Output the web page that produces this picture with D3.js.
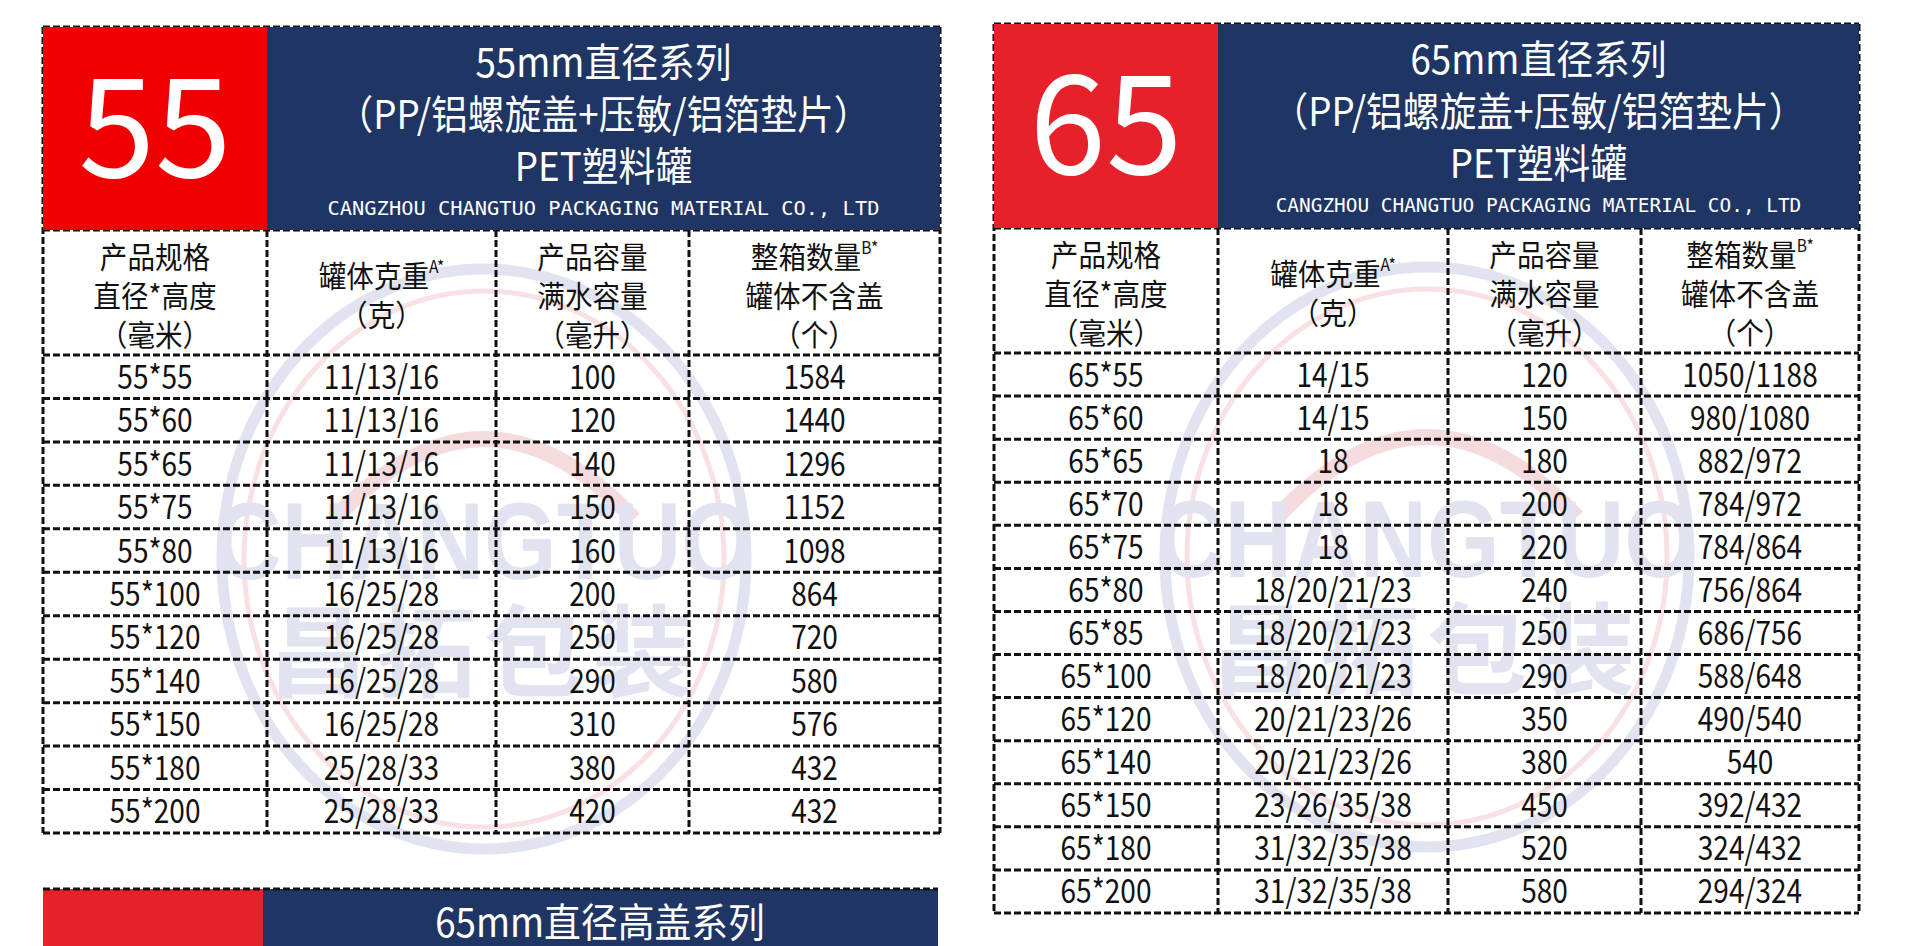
<!DOCTYPE html>
<html><head><meta charset="utf-8">
<script src="https://cdn.jsdelivr.net/npm/d3@7"></script>
<style>body{margin:0;background:#fff;overflow:hidden}svg{display:block}</style>
</head><body>
<script>
// column headings (lines)
var colHeads = [
	["产品规格", "直径*高度", "（毫米）"],
	["罐体克重|A*", "（克）"],
	["产品容量", "满水容量", "（毫升）"],
	["整箱数量|B*", "罐体不含盖", "（个）"]
];

var spec55 = ["55*55","55*60","55*65","55*75","55*80","55*100","55*120","55*140","55*150","55*180","55*200"];
var weight55 = ["11/13/16","11/13/16","11/13/16","11/13/16","11/13/16","16/25/28","16/25/28","16/25/28","16/25/28","25/28/33","25/28/33"];
var volume55 = [100,120,140,150,160,200,250,290,310,380,420];
var box55 = ["1584","1440","1296","1152","1098","864","720","580","576","432","432"];

var spec65 = ["65*55","65*60","65*65","65*70","65*75","65*80","65*85","65*100","65*120","65*140","65*150","65*180","65*200"];
var weight65 = ["14/15","14/15","18","18","18","18/20/21/23","18/20/21/23","18/20/21/23","20/21/23/26","20/21/23/26","23/26/35/38","31/32/35/38","31/32/35/38"];
var volume65 = [120,150,180,200,220,240,250,290,350,380,450,520,580];
var box65 = ["1050/1188","980/1080","882/972","784/972","784/864","756/864","686/756","588/648","490/540","540","392/432","324/432","294/324"];

var company = "CANGZHOU CHANGTUO PACKAGING MATERIAL CO., LTD";

var W = 1920, H = 946;
var svg = d3.select("body").append("svg").attr("width", W).attr("height", H);
var font = "'Noto Sans CJK SC', 'Noto Sans', sans-serif";

// narrow text: squeeze horizontally around its anchor
function squeeze(t, cx, k)	{
	t.attr("transform", `translate(${cx},0) scale(${k},1) translate(${-cx},0)`);
	return t;
}

function watermark(cx, cy)	{
	var g = svg.append("g").attr("opacity", 0.75);
	g.append("ellipse").attr("cx", cx).attr("cy", cy).attr("rx", 262).attr("ry", 290)
		.attr("fill", "none").attr("stroke", "#d8dbec").attr("stroke-width", 11);
	g.append("ellipse").attr("cx", cx).attr("cy", cy).attr("rx", 240).attr("ry", 268)
		.attr("fill", "none").attr("stroke", "#f6d6da").attr("stroke-width", 5);
	g.append("path")
		.attr("d", `M${cx-150},${cy-40} Q${cx},${cy-200} ${cx+150},${cy-40}`)
		.attr("fill", "none").attr("stroke", "#f4d0d4").attr("stroke-width", 16);
	squeeze(g.append("text").attr("x", cx).attr("y", cy + 20).attr("text-anchor", "middle")
		.attr("font-family", "'Liberation Sans', sans-serif").attr("font-weight", "bold")
		.attr("font-size", 110).attr("fill", "#d8dbec").text("CHANGTUO"), cx, 0.85);
	g.append("text").attr("x", cx).attr("y", cy + 130).attr("text-anchor", "middle")
		.attr("font-family", font).attr("font-weight", "bold")
		.attr("font-size", 100).attr("fill", "#d8dbec").attr("letter-spacing", 8).text("昌拓包装");
}

function header(x0, x1, xr, y0, y1, num, lines)	{
	svg.append("rect").attr("x", x0).attr("y", y0).attr("width", xr - x0).attr("height", y1 - y0).attr("fill", num === "55" ? "#f00000" : "#e62129");
	svg.append("rect").attr("x", xr).attr("y", y0).attr("width", x1 - xr).attr("height", y1 - y0).attr("fill", "#1f3564");
	svg.append("text").attr("x", (x0 + xr) / 2).attr("y", y0 + (y1 - y0) / 2 + 48)
		.attr("text-anchor", "middle").attr("fill", "#fff").attr("font-family", font)
		.attr("font-size", 138).text(num);
	var cx = (xr + x1) / 2;
	lines.forEach((l, i) => {
		squeeze(svg.append("text").attr("x", cx).attr("y", y0 + 50 + i * 52).attr("text-anchor", "middle")
			.attr("fill", "#fff").attr("font-family", font).attr("font-size", 40).text(l), cx, 0.92);
	});
	svg.append("text").attr("x", cx).attr("y", y0 + 188).attr("text-anchor", "middle")
		.attr("fill", "#fff").attr("font-family", "'DejaVu Sans Mono', monospace").attr("font-size", 19)
		.attr("textLength", (x1 - xr) * 0.82).attr("lengthAdjust", "spacingAndGlyphs").text(company);
}

function table(opt)	{
	var x = d3.scaleOrdinal().domain([0, 1, 2, 3]).range(opt.cols);
	var rows = opt.spec.map((s, i) => [s, opt.weight[i], String(opt.volume[i]), opt.box[i]]);
	var y = d3.scaleBand().domain(d3.range(rows.length)).range([opt.yh, opt.yb]);
	var g = svg.append("g").attr("stroke", "#111").attr("stroke-width", 3).attr("stroke-dasharray", "7,3");

	header(opt.cols[0], opt.cols[4], opt.cols[1], opt.yt, opt.yc, opt.num, opt.title);

	// column headings
	colHeads.forEach((ls, c) => {
		var cx = (x(c) + opt.cols[c + 1]) / 2;
		var off = ls.length === 3 ? 0 : 19;
		ls.forEach((l, k) => {
			var parts = l.split("|");
			var t = svg.append("text").attr("x", cx).attr("y", opt.yc + 38 + off + k * 39)
				.attr("text-anchor", "middle").attr("font-family", font).attr("font-size", 30).attr("fill", "#111");
			t.append("tspan").text(parts[0]);
			if(parts[1]) t.append("tspan").attr("dy", -14).attr("font-size", 17).text(parts[1]);
			squeeze(t, cx, 0.92);
		});
	});

	// cells
	rows.forEach((r, i) => r.forEach((v, c) => {
		var cx = (x(c) + opt.cols[c + 1]) / 2;
		squeeze(svg.append("text").attr("x", cx).attr("y", y(i) + y.bandwidth() / 2 + 12)
			.attr("text-anchor", "middle").attr("font-family", font).attr("font-size", 33).attr("fill", "#111").text(v), cx, 0.85);
	}));

	// grid
	[opt.yc].concat(y.domain().map(d => y(d))).concat([opt.yb]).forEach(yy => {
		g.append("line").attr("x1", opt.cols[0]).attr("x2", opt.cols[4]).attr("y1", yy).attr("y2", yy);
	});
	g.append("line").attr("x1", opt.cols[0]).attr("x2", opt.cols[4]).attr("y1", opt.yt).attr("y2", opt.yt);
	opt.cols.forEach((cx, i) => {
		g.append("line").attr("x1", cx).attr("x2", cx)
			.attr("y1", (i === 0 || i === 4) ? opt.yt : opt.yc).attr("y2", opt.yb);
	});
}

watermark(484, 559);
watermark(1427, 557);

table({ num: "55", cols: [43, 267, 496, 689, 940], yt: 27, yc: 230, yh: 355, yb: 833,
	title: ["55mm直径系列", "（PP/铝螺旋盖+压敏/铝箔垫片）", "PET塑料罐"],
	spec: spec55, weight: weight55, volume: volume55, box: box55 });
table({ num: "65", cols: [994, 1218, 1448, 1641, 1859], yt: 24, yc: 228, yh: 353, yb: 913,
	title: ["65mm直径系列", "（PP/铝螺旋盖+压敏/铝箔垫片）", "PET塑料罐"],
	spec: spec65, weight: weight65, volume: volume65, box: box65 });

// third table, cut off at bottom
svg.append("rect").attr("x", 43).attr("y", 889).attr("width", 220).attr("height", 80).attr("fill", "#e62129");
svg.append("rect").attr("x", 263).attr("y", 889).attr("width", 675).attr("height", 80).attr("fill", "#1f3564");
svg.append("line").attr("x1", 43).attr("x2", 938).attr("y1", 889).attr("y2", 889)
	.attr("stroke", "#111").attr("stroke-width", 3).attr("stroke-dasharray", "7,3");
squeeze(svg.append("text").attr("x", 600).attr("y", 937).attr("text-anchor", "middle").attr("fill", "#fff")
	.attr("font-family", font).attr("font-size", 40).text("65mm直径高盖系列"), 600, 0.92);
</script>
</body></html>
